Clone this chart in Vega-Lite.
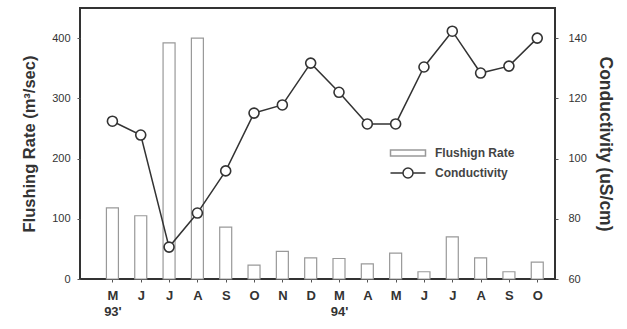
{
  "$schema": "https://vega.github.io/schema/vega-lite/v6.json",
  "width": 475,
  "height": 271,
  "autosize": "none",
  "padding": {"left": 80, "top": 8, "right": 72, "bottom": 50},
  "background": "white",
  "config": {
    "view": {"stroke": "#333", "strokeWidth": 2},
    "font": "Liberation Sans",
    "axis": {"grid": false, "domain": false, "tickColor": "#555", "tickSize": 3, "labelColor": "#333", "titleColor": "#333", "labelFont": "Liberation Sans", "titleFont": "Liberation Sans"},
    "legend": {"labelFontSize": 12, "labelFontWeight": "bold", "labelColor": "#444", "labelOffset": 16, "symbolSize": 400, "symbolStrokeWidth": 1.5, "symbolFillColor": "white", "title": null}
  },
  "data": {
    "values": [
      {"i": 0, "flush": 118, "cond": 112.4},
      {"i": 1, "flush": 105, "cond": 107.8},
      {"i": 2, "flush": 392, "cond": 70.6},
      {"i": 3, "flush": 400, "cond": 81.9},
      {"i": 4, "flush": 86, "cond": 95.9},
      {"i": 5, "flush": 23, "cond": 115.1},
      {"i": 6, "flush": 46, "cond": 117.8},
      {"i": 7, "flush": 35, "cond": 131.7},
      {"i": 8, "flush": 34, "cond": 122},
      {"i": 9, "flush": 25, "cond": 111.5},
      {"i": 10, "flush": 43, "cond": 111.5},
      {"i": 11, "flush": 12, "cond": 130.4},
      {"i": 12, "flush": 70, "cond": 142.3},
      {"i": 13, "flush": 35, "cond": 128.4},
      {"i": 14, "flush": 12, "cond": 130.7},
      {"i": 15, "flush": 28, "cond": 140}
    ]
  },
  "encoding": {
    "x": {
      "field": "i",
      "type": "quantitative",
      "scale": {"domain": [-0.968, 15.45], "nice": false, "zero": false},
      "axis": {
        "title": null,
        "values": [0,1,2,3,4,5,6,7,8,9,10,11,12,13,14,15],
        "labelExpr": "[['M', \"93'\"],'J','J','A','S','O','N','D',['M', \"94'\"],'A','M','J','J','A','S','O'][datum.value]",
        "labelFontSize": 13,
        "labelFontWeight": "bold",
        "labelPadding": 7,
        "labelLineHeight": 16,
        "labelBaseline": "top"
      }
    }
  },
  "layer": [
    {
      "mark": {"type": "bar", "width": 12, "fill": "white", "strokeWidth": 1.2},
      "encoding": {
        "y": {
          "field": "flush",
          "type": "quantitative",
          "scale": {"domain": [0, 450], "nice": false},
          "axis": {
            "title": "Flushing Rate (m³/sec)",
            "values": [0, 100, 200, 300, 400],
            "labelFontSize": 11,
            "labelPadding": 7,
            "titleFontSize": 16.5,
            "titleFontWeight": "bold",
            "titlePadding": 14
          }
        },
        "stroke": {
          "datum": "Flushign Rate",
          "scale": {"domain": ["Flushign Rate"], "range": ["#999"]},
          "legend": {
            "orient": "none",
            "legendX": 317,
            "legendY": 134,
            "symbolType": "M-1.75,-0.3H1.75V0.3H-1.75Z"
          }
        }
      }
    },
    {
      "layer": [
        {
          "mark": {"type": "line", "strokeWidth": 1.5},
          "encoding": {
            "y": {
              "field": "cond",
              "type": "quantitative",
              "scale": {"domain": [60, 150], "nice": false, "zero": false},
              "axis": {
                "orient": "right",
                "title": "Conductivity (uS/cm)",
                "values": [60, 80, 100, 120, 140],
                "labelFontSize": 11,
                "labelPadding": 10,
                "titleFontSize": 17.5,
                "titleFontWeight": "bold",
                "titlePadding": 9
              }
            },
            "stroke": {
              "datum": "Conductivity",
              "scale": {"domain": ["Conductivity"], "range": ["#333"]},
              "legend": {
                "orient": "none",
                "legendX": 317,
                "legendY": 154,
                "symbolType": "M-1.75,0H-0.5M0.5,0H1.75M-0.5,0A0.5,0.5,0,1,1,0.5,0A0.5,0.5,0,1,1,-0.5,0"
              }
            }
          }
        },
        {
          "mark": {"type": "point", "shape": "circle", "size": 100, "fill": "white", "filled": true, "stroke": "#333", "strokeWidth": 1.6, "opacity": 1},
          "encoding": {
            "y": {"field": "cond", "type": "quantitative"}
          }
        }
      ]
    }
  ],
  "resolve": {"scale": {"y": "independent", "stroke": "independent"}}
}
